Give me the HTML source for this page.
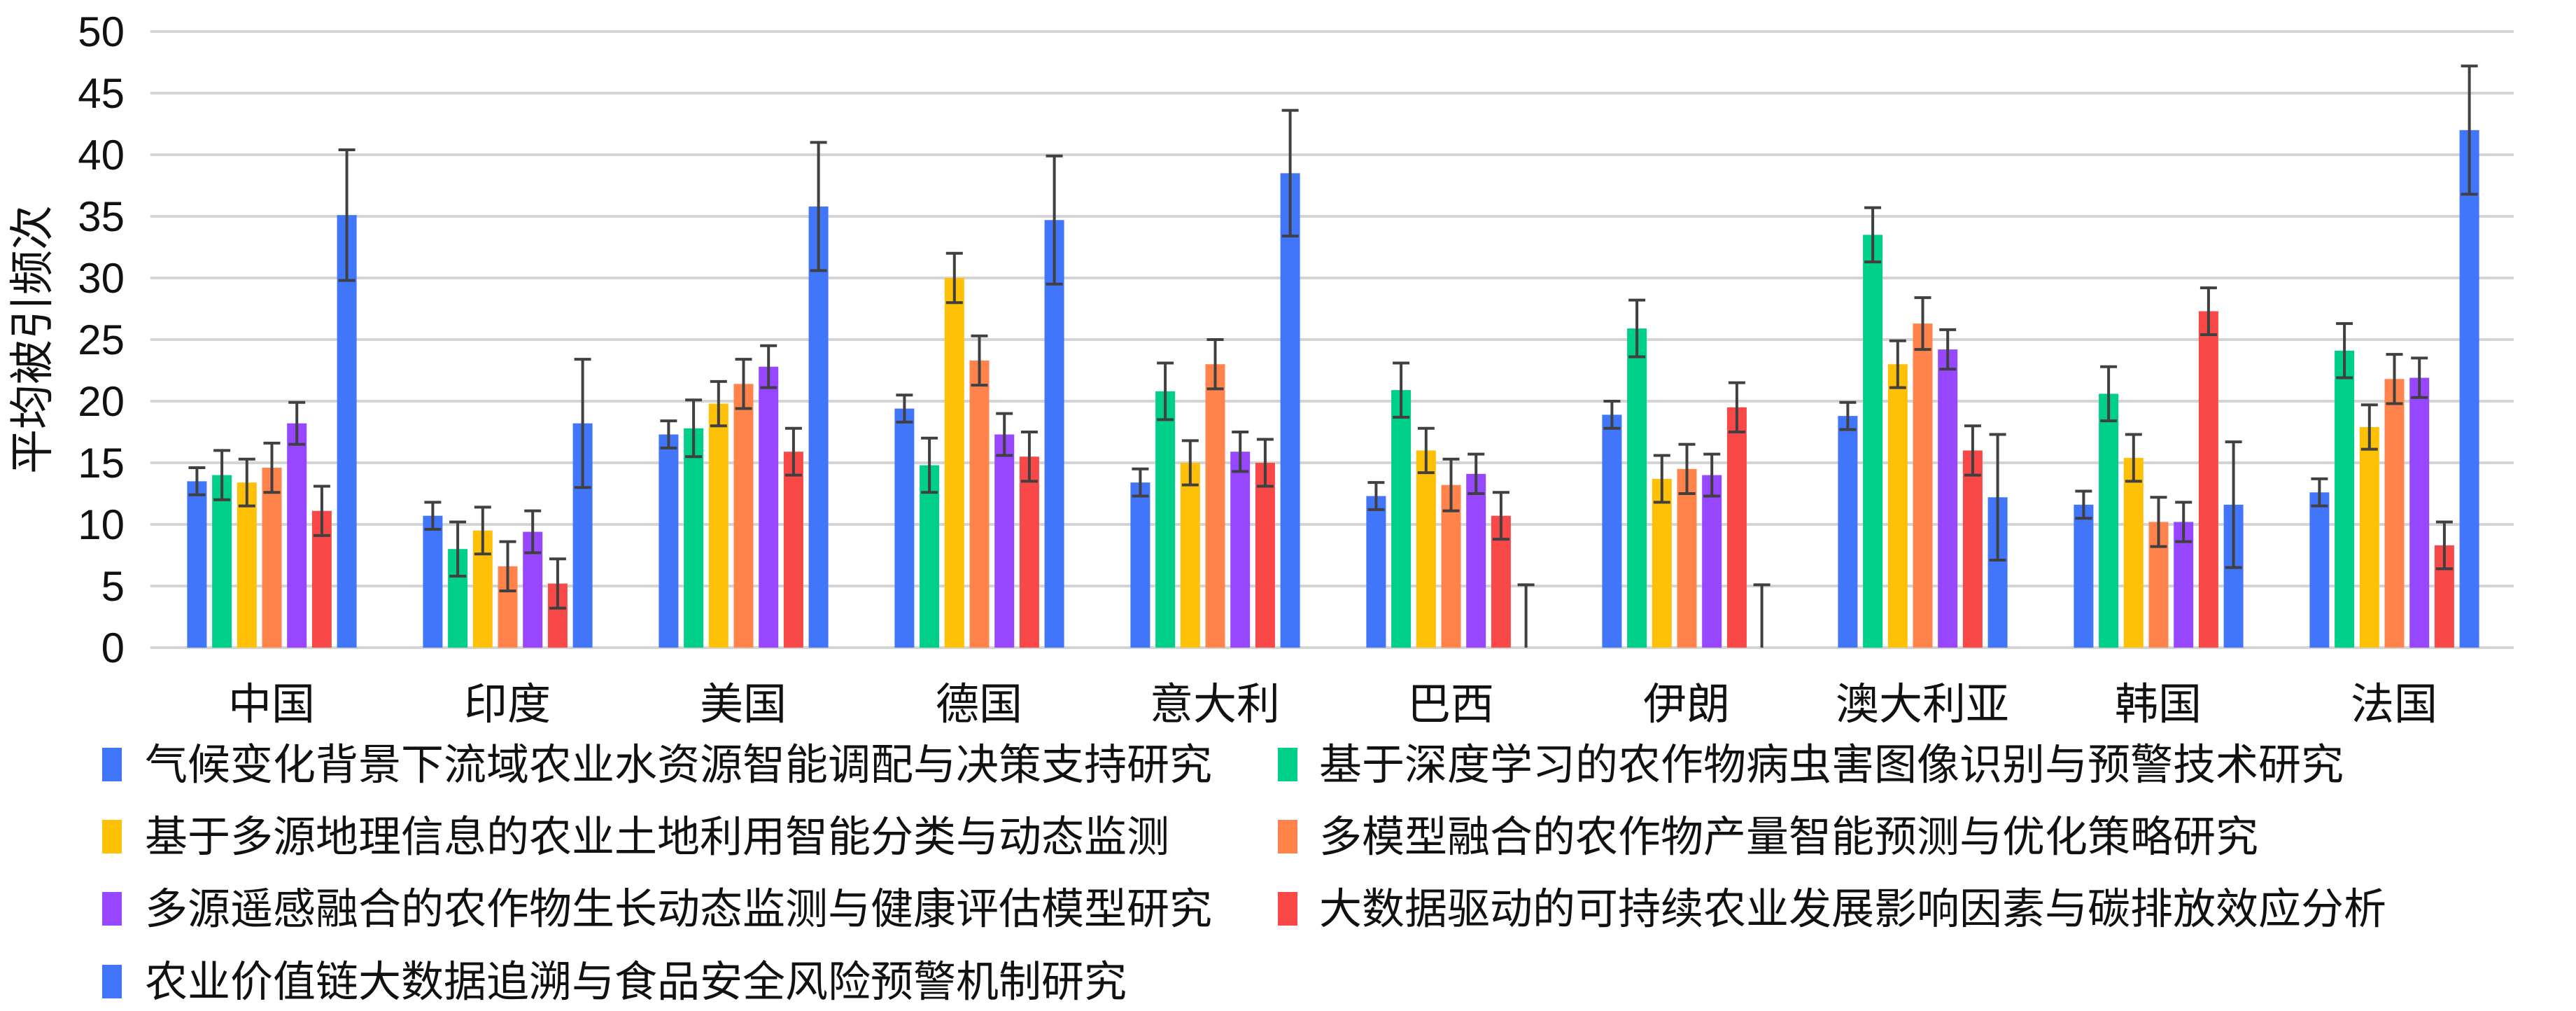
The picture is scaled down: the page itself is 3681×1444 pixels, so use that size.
<!DOCTYPE html>
<html><head><meta charset="utf-8"><style>
html,body{margin:0;padding:0;background:#fff;}
svg{display:block;font-family:"Liberation Sans","Noto Sans CJK SC",sans-serif;}
</style></head><body>
<svg id="c" width="3681" height="1444" viewBox="0 0 3681 1444" xmlns="http://www.w3.org/2000/svg">
<g id="grid" stroke="#d4d4d4" stroke-width="4"></g>
<g id="bars"></g>
<g font-size="60" fill="#111" text-anchor="end">
<text x="178" y="66">50</text><text x="178" y="154">45</text><text x="178" y="242">40</text>
<text x="178" y="330">35</text><text x="178" y="418">30</text><text x="178" y="506">25</text>
<text x="178" y="594">20</text><text x="178" y="682">15</text><text x="178" y="770">10</text>
<text x="178" y="858">5</text><text x="178" y="946">0</text>
</g>
<text transform="translate(68,485) rotate(-90)" font-size="64" fill="#111" text-anchor="middle">平均被引频次</text>
<g font-size="62" fill="#111" text-anchor="middle">
<text x="388" y="1027">中国</text><text x="725" y="1027">印度</text><text x="1062" y="1027">美国</text>
<text x="1399" y="1027">德国</text><text x="1736" y="1027">意大利</text><text x="2073" y="1027">巴西</text>
<text x="2410" y="1027">伊朗</text><text x="2747" y="1027">澳大利亚</text><text x="3084" y="1027">韩国</text>
<text x="3421" y="1027">法国</text>
</g>
<g font-size="61" fill="#111">
<rect x="146" y="1068" width="28" height="48" fill="#4175FA"/><text x="207" y="1113">气候变化背景下流域农业水资源智能调配与决策支持研究</text>
<rect x="1826" y="1068" width="28" height="48" fill="#00CF8A"/><text x="1885" y="1113">基于深度学习的农作物病虫害图像识别与预警技术研究</text>
<rect x="146" y="1171" width="28" height="48" fill="#FFC107"/><text x="207" y="1216">基于多源地理信息的农业土地利用智能分类与动态监测</text>
<rect x="1826" y="1171" width="28" height="48" fill="#FF834A"/><text x="1885" y="1216">多模型融合的农作物产量智能预测与优化策略研究</text>
<rect x="146" y="1274" width="28" height="48" fill="#9747FF"/><text x="207" y="1319">多源遥感融合的农作物生长动态监测与健康评估模型研究</text>
<rect x="1826" y="1274" width="28" height="48" fill="#F94848"/><text x="1885" y="1319">大数据驱动的可持续农业发展影响因素与碳排放效应分析</text>
<rect x="146" y="1378" width="28" height="48" fill="#4175FA"/><text x="207" y="1423">农业价值链大数据追溯与食品安全风险预警机制研究</text>
</g>
</svg>
<script>
var ns="http://www.w3.org/2000/svg";
function el(p,t,a){var e=document.createElementNS(ns,t);for(var k in a)e.setAttribute(k,a[k]);p.appendChild(e);return e;}
var g=document.getElementById("grid"),b=document.getElementById("bars");
var y0=925,u=17.6;
for(var i=0;i<=10;i++){var y=y0-i*5*u;el(g,"line",{x1:215,x2:3592,y1:y,y2:y});}
var cols=["#4175FA","#00CF8A","#FFC107","#FF834A","#9747FF","#F94848","#4175FA"];
var d=[
[[13.5,1.1],[14,2],[13.4,1.9],[14.6,2],[18.2,1.7],[11.1,2],[35.1,5.3]],
[[10.7,1.1],[8,2.2],[9.5,1.9],[6.6,2],[9.4,1.7],[5.2,2],[18.2,5.2]],
[[17.3,1.1],[17.8,2.3],[19.8,1.8],[21.4,2],[22.8,1.7],[15.9,1.9],[35.8,5.2]],
[[19.4,1.1],[14.8,2.2],[30,2],[23.3,2],[17.3,1.7],[15.5,2],[34.7,5.2]],
[[13.4,1.1],[20.8,2.3],[15,1.8],[23,2],[15.9,1.6],[15,1.9],[38.5,5.1]],
[[12.3,1.1],[20.9,2.2],[16,1.8],[13.2,2.1],[14.1,1.6],[10.7,1.9],[0,5.1]],
[[18.9,1.1],[25.9,2.3],[13.7,1.9],[14.5,2],[14,1.7],[19.5,2],[0,5.1]],
[[18.8,1.1],[33.5,2.2],[23,1.9],[26.3,2.1],[24.2,1.6],[16,2],[12.2,5.1]],
[[11.6,1.1],[20.6,2.2],[15.4,1.9],[10.2,2],[10.2,1.6],[27.3,1.9],[11.6,5.1]],
[[12.6,1.1],[24.1,2.2],[17.9,1.8],[21.8,2],[21.9,1.6],[8.3,1.9],[42,5.2]]];
for(var i=0;i<10;i++){var c=220+337*(i+0.5);
for(var j=0;j<7;j++){var v=d[i][j][0],e=d[i][j][1];
var x=c-3.5*35.7+j*35.7+3.85;
if(v>0)el(b,"rect",{x:x,y:y0-v*u,width:28,height:v*u,fill:cols[j]});
var cx=x+14,yt=y0-(v+e)*u,yb=y0-Math.max(0,v-e)*u;
el(b,"line",{x1:cx,x2:cx,y1:yt,y2:yb,stroke:"#404040","stroke-width":4});
el(b,"line",{x1:cx-12,x2:cx+12,y1:yt,y2:yt,stroke:"#404040","stroke-width":4});
if(v-e>0)el(b,"line",{x1:cx-12,x2:cx+12,y1:yb,y2:yb,stroke:"#404040","stroke-width":4});
}}
</script>
</body></html>
